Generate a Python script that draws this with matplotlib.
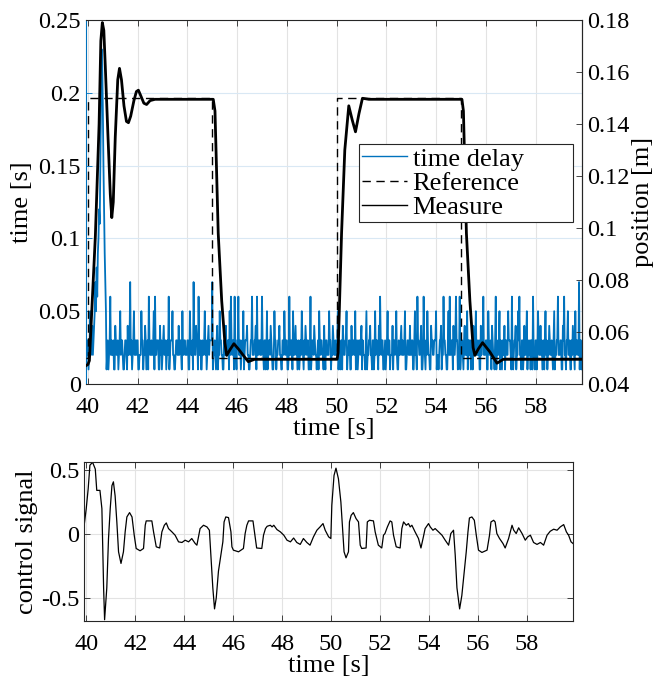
import matplotlib
matplotlib.use('Agg')
import matplotlib.pyplot as plt
from matplotlib.ticker import FuncFormatter
import numpy as np

plt.rcParams['font.family'] = ['Liberation Serif', 'DejaVu Serif']
plt.rcParams['axes.unicode_minus'] = False

BLUE = '#0072BD'

# ---- time delay (units of 10 ms), sampled every 0.025 s from 39.95 s
delay_t0 = 39.95
delay_dt = 0.025
delay_start = [2, 3, 3, 1, 2, 3, 5, 2, 3, 4, 2, 3, 4, 5, 7, 5, 8, 6, 9, 10,
               12, 11, 15, 19, 23, 22, 19, 15, 12, 9, 7, 5, 1, 2, 3, 1, 2, 3, 6, 2]
delay_rows = [
    "3223114322312352332112332142237231235223",
    "2331122253312243123163223223516223331142",
    "3123422312326123335221123322423321522332",
    "2233115322317322433162231132235231234233",
    "3371223213412253322113324223315263233162",
    "2133622312325123334221123362223341622332",
    "3263213312512332432112533122334221133253",
    "2331126223315223423123123253213243233112",
    "6123324322123153233221421332225331224322",
    "3223512312314322335122331142233251231233",
    "2341322213512233422133125233214263233112",
    "3123523312224133235211322342322351123322",
    "4223311352216332234112632132532211433223",
    "3351221233412263322113526223314223633122",
    "6123321342225133231231422352322311423362",
    "2233115322314322136132235132132241332253",
    "3321621233412253622133124223513223133162",
    "2133125322423123135231224322321351223362",
    "2233114362213352231132432152332271331223",
]

# ---- reference position (step)
ref_t = [39.91, 40.0, 45.0, 50.0, 55.0, 59.88]
ref_pos = [0.05, 0.15, 0.05, 0.15, 0.05, 0.05]

# ---- measured position
meas_t = [39.91, 40.0, 40.06, 40.17, 40.3, 40.45, 40.52, 40.58, 40.64, 40.7,
          40.8, 40.9, 40.96, 41.02, 41.1, 41.2, 41.27, 41.35, 41.45, 41.55,
          41.63, 41.72, 41.85, 41.95, 42.03, 42.12, 42.25, 42.36, 42.5, 42.7,
          43.5, 44.3, 45.04, 45.11, 45.24, 45.38, 45.51, 45.58, 45.7, 45.87,
          46.05, 46.25, 46.45, 46.7, 50.02, 50.06, 50.2, 50.33, 50.49, 50.63,
          50.76, 50.9, 51.04, 51.3, 55.04, 55.1, 55.22, 55.36, 55.49, 55.56,
          55.7, 55.87, 56.16, 56.45, 56.7, 59.88]
meas = [0.047, 0.0475, 0.049, 0.071, 0.097, 0.14, 0.172, 0.179, 0.176, 0.162,
        0.137, 0.113, 0.104, 0.11, 0.135, 0.157, 0.1614, 0.157, 0.147, 0.141,
        0.1405, 0.143, 0.149, 0.1525, 0.153, 0.151, 0.148, 0.1475, 0.149, 0.1495,
        0.1495, 0.1495, 0.1495, 0.145, 0.098, 0.072, 0.0557, 0.051, 0.053, 0.0555,
        0.0535, 0.051, 0.0486, 0.0495, 0.0495, 0.052, 0.098, 0.13, 0.147, 0.1415,
        0.137, 0.144, 0.1499, 0.1495, 0.1495, 0.145, 0.098, 0.072, 0.054, 0.051,
        0.0535, 0.0559, 0.0524, 0.048, 0.0495, 0.0495]

# ---- control signal
ctrl_t = [39.91, 40.0, 40.08, 40.15, 40.26, 40.37, 40.43, 40.56,
          40.64, 40.71, 40.75, 40.84, 40.91, 40.98, 41.05, 41.11,
          41.18, 41.25, 41.32, 41.42, 41.52, 41.59, 41.66, 41.77,
          41.87, 41.96, 42.04, 42.2, 42.34, 42.41, 42.45, 42.68,
          42.75, 42.86, 43.0, 43.09, 43.19, 43.27, 43.36, 43.5,
          43.63, 43.77, 43.91, 44.04, 44.18, 44.31, 44.45, 44.52,
          44.65, 44.79, 44.93, 45.03, 45.09, 45.17, 45.24, 45.31,
          45.4, 45.5, 45.58, 45.63, 45.7, 45.81, 45.91, 45.95,
          46.01, 46.22, 46.42, 46.49, 46.56, 46.63, 46.81, 46.89,
          46.96, 47.17, 47.24, 47.32, 47.39, 47.52, 47.59, 47.66,
          47.79, 47.93, 48.07, 48.2, 48.34, 48.47, 48.6, 48.74,
          48.87, 49.01, 49.14, 49.28, 49.42, 49.55, 49.67, 49.76,
          49.9, 49.99, 50.03, 50.12, 50.2, 50.3, 50.4, 50.48,
          50.53, 50.61, 50.71, 50.75, 50.82, 50.91, 51.02, 51.12,
          51.19, 51.25, 51.43, 51.48, 51.57, 51.73, 51.8, 51.93,
          52.07, 52.14, 52.2, 52.3, 52.41, 52.48, 52.55, 52.66,
          52.82, 52.89, 52.96, 53.07, 53.16, 53.23, 53.3, 53.43,
          53.57, 53.67, 53.77, 53.84, 53.98, 54.05, 54.16, 54.25,
          54.39, 54.53, 54.66, 54.8, 54.89, 55.0, 55.07, 55.14,
          55.25, 55.34, 55.44, 55.52, 55.59, 55.65, 55.75, 55.85,
          55.93, 56.02, 56.16, 56.37, 56.47, 56.53, 56.64, 56.7,
          56.77, 56.88, 57.02, 57.11, 57.25, 57.39, 57.46, 57.56,
          57.66, 57.8, 57.93, 58.03, 58.14, 58.27, 58.41, 58.55,
          58.68, 58.82, 58.95, 59.09, 59.23, 59.36, 59.5, 59.61,
          59.7, 59.8, 59.88]
ctrl = [0.06, 0.2, 0.356, 0.54, 0.563, 0.51, 0.343, 0.343,
        0.2, -0.42, -0.67, -0.42, -0.034, 0.2, 0.38, 0.41,
        0.30, 0.096, -0.138, -0.229, -0.138, 0.018, 0.135, 0.169,
        0.135, -0.008, -0.112, -0.13, -0.112, 0.07, 0.104, 0.104,
        0.018, -0.099, -0.108, 0.018, 0.07, 0.088, 0.044, 0.018,
        -0.008, -0.06, -0.065, -0.047, -0.06, -0.034, -0.073, -0.086,
        0.044, 0.07, 0.057, 0.031, -0.164, -0.42, -0.585, -0.5,
        -0.29, -0.164, -0.06, 0.096, 0.135, 0.13, 0.018, -0.099,
        -0.125, -0.138, -0.112, 0.005, 0.07, 0.104, 0.104, -0.008,
        -0.108, -0.112, -0.008, 0.044, 0.062, 0.07, 0.057, 0.07,
        0.036, 0.018, -0.008, -0.047, -0.06, -0.03, -0.065, -0.08,
        -0.034, -0.065, -0.086, -0.021, 0.031, 0.057, 0.083, 0.031,
        -0.021, -0.034, 0.226, 0.46, 0.517, 0.434, 0.252, 0.018,
        -0.138, -0.185, -0.138, 0.096, 0.148, 0.169, 0.122, 0.096,
        -0.086, -0.112, -0.108, 0.096, 0.109, 0.104, 0.018, -0.086,
        -0.108, -0.008, 0.005, 0.057, 0.104, 0.096, -0.008, -0.099,
        -0.108, 0.044, 0.096, 0.07, 0.083, 0.057, 0.07, 0.018,
        -0.034, -0.108, -0.021, 0.044, 0.083, 0.057, 0.031, 0.044,
        0.018, -0.008, -0.047, -0.086, 0.005, 0.031, -0.164, -0.42,
        -0.585, -0.48, -0.29, -0.138, 0.018, 0.127, 0.135, 0.109,
        -0.008, -0.125, -0.143, -0.125, -0.008, 0.096, 0.109, 0.096,
        0.005, -0.034, -0.073, -0.108, -0.034, 0.07, 0.031, 0.005,
        0.05, 0.005, -0.047, -0.021, -0.008, -0.065, -0.08, -0.065,
        -0.086, -0.008, 0.023, 0.039, 0.031, 0.057, 0.075, 0.018,
        -0.008, -0.06, -0.073]

delay = np.array(delay_start + [int(c) for c in "".join(delay_rows)]) * 0.01
t_delay = delay_t0 + delay_dt * np.arange(len(delay))

fmt = FuncFormatter(lambda v, p: '%g' % round(v, 4))
XLIM = (39.91, 59.88)
FS_TICK = 17.5
FS_LAB = 19

fig = plt.figure(figsize=(6.59, 6.85), dpi=100)

# ---------------- top panel
ax = fig.add_axes([0.130, 0.4394, 0.7536, 0.5314])
ax2 = ax.twinx()

l1, = ax.plot(t_delay, delay, color=BLUE, lw=1.3)
l2, = ax2.plot(ref_t, ref_pos, drawstyle='steps-post', color='k', lw=1.0,
               ls=(0, (6, 4)))
l3, = ax2.plot(meas_t, meas, color='k', lw=2.0)

ax.set_xlim(*XLIM)
ax.set_ylim(0, 0.25)
ax2.set_ylim(0.04, 0.18)
ax.set_xticks(range(40, 60, 2))
ax.set_yticks([0, 0.05, 0.1, 0.15, 0.2, 0.25])
ax2.set_yticks([0.04, 0.06, 0.08, 0.1, 0.12, 0.14, 0.16, 0.18])
ax.yaxis.set_major_formatter(fmt)
ax2.yaxis.set_major_formatter(fmt)

ax.set_axisbelow(True)
ax.xaxis.grid(True, color='#e3e3e3', lw=0.8)
ax.yaxis.grid(True, color='#d9e8f4', lw=0.8)

ax.tick_params(axis='x', direction='in', top=True, length=4, width=0.6,
               labelsize=FS_TICK, pad=9, color='#262626')
ax.tick_params(axis='y', direction='in', length=4, width=0.6,
               labelsize=FS_TICK, color=BLUE, labelcolor='k')
ax2.tick_params(axis='y', direction='in', length=4, width=0.6,
                labelsize=FS_TICK, color='#262626')
ax.spines['left'].set_color(BLUE)
for s in ['top', 'bottom', 'right']:
    ax.spines[s].set_color('#262626')
    ax.spines[s].set_linewidth(0.8)
for s in ['left', 'top', 'bottom']:
    ax2.spines[s].set_visible(False)
ax2.spines['right'].set_color('#262626')

ax.set_xlabel('time [s]', fontsize=FS_LAB, labelpad=0)
ax.set_ylabel('time [s]', fontsize=FS_LAB, labelpad=4)
ax2.set_ylabel('position [m]', fontsize=FS_LAB, labelpad=2)

leg = ax2.legend([l1, l2, l3], ['time delay', 'Reference', 'Measure'],
                 loc='upper left', mode='expand',
                 bbox_to_anchor=(359.3 / 659, 465 / 685, 213.4 / 659, 76 / 685),
                 bbox_transform=fig.transFigure, fontsize=FS_LAB,
                 handlelength=1.7, handletextpad=0.2, borderpad=0.12,
                 labelspacing=0.03, borderaxespad=0, fancybox=False,
                 framealpha=1, edgecolor='#262626')
leg.get_frame().set_linewidth(0.8)
leg.get_lines()[0].set_linewidth(1.0)
leg.get_lines()[2].set_linewidth(1.0)

# ---------------- bottom panel
bx = fig.add_axes([0.1275, 0.0934, 0.742, 0.2321])
bx.plot(ctrl_t, ctrl, color='k', lw=0.9)
bx.set_xlim(*XLIM)
bx.set_ylim(-0.68, 0.565)
bx.set_xticks(range(40, 60, 2))
bx.set_yticks([-0.5, 0, 0.5])
bx.yaxis.set_major_formatter(fmt)
bx.set_axisbelow(True)
bx.grid(True, color='#e3e3e3', lw=0.8)
bx.tick_params(direction='in', top=True, right=True, length=4, width=0.6,
               labelsize=FS_TICK, color='#262626')
bx.tick_params(axis='x', pad=9)
for s in bx.spines.values():
    s.set_color('#262626')
    s.set_linewidth(0.8)
bx.set_xlabel('time [s]', fontsize=FS_LAB, labelpad=0)
bx.set_ylabel('control signal', fontsize=FS_LAB, labelpad=2)

fig.savefig('out.png', dpi=100)
